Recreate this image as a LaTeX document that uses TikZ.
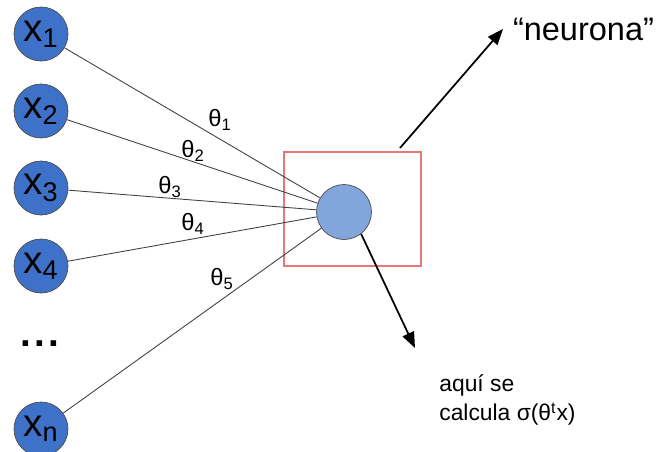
\documentclass[tikz,border=0pt]{standalone}
\usepackage{fontspec}
\setmainfont{Liberation Sans}
\usepackage{xcolor}
\usetikzlibrary{positioning,arrows.meta}
\definecolor{inblue}{RGB}{62,114,200}
\definecolor{neublue}{RGB}{130,166,220}
\definecolor{boxred}{RGB}{232,120,120}
\tikzset{
    input/.style={circle, draw=black!70, fill=inblue, minimum size=1.08cm, inner sep=0pt, font=\fontsize{22}{22}\selectfont},
    neuron/.style={circle, draw=black!70, fill=neublue, minimum size=1.1cm, inner sep=0pt},
    weight/.style={font=\fontsize{13.5}{13.5}\selectfont, inner sep=1pt},
    link/.style={draw=black!75, line width=0.5pt},
    pointer/.style={-{Triangle[length=9pt,width=7pt]}, line width=1pt}
}

\begin{document}
\begin{tikzpicture}[x=0.02cm, y=-0.02cm]
    \useasboundingbox (0,0) rectangle (660,451);

    % entradas
    \node[input] (x1) at (41,34) {x\textsubscript{1}};
    \node[input] (x2) at (41,111) {x\textsubscript{2}};
    \node[input] (x3) at (41,188) {x\textsubscript{3}};
    \node[input] (x4) at (41,266) {x\textsubscript{4}};
    \node[font=\fontsize{22}{22}\selectfont\bfseries] (dots) at (40,344) {.\hspace{2pt}.\hspace{2pt}.};
    \node[input] (xn) at (41,429) {x\textsubscript{n}};

    % neurona
    \node[draw=boxred, line width=0.8pt, minimum width=2.74cm, minimum height=2.28cm] (box) at (352.5,209) {};
    \node[neuron] (n) at (344,212) {};

    % pesos
    \draw[link] (x1) -- (n);
    \draw[link] (x2) -- (n);
    \draw[link] (x3) -- (n);
    \draw[link] (x4) -- (n);
    \draw[link] (xn) -- (n);
    \node[weight] (t1) at (220,120) {θ\textsubscript{1}};
    \node[weight] (t2) at (193,151) {θ\textsubscript{2}};
    \node[weight] (t3) at (170,187) {θ\textsubscript{3}};
    \node[weight] (t4) at (193,224) {θ\textsubscript{4}};
    \node[weight] (t5) at (222,279) {θ\textsubscript{5}};

    % etiquetas
    \node[anchor=west, inner ysep=0pt, inner xsep=5.5pt, font=\fontsize{18.5}{18.5}\selectfont] (lab) at (503,29) {“neurona”};
    \coordinate (start) at (400,148);
    \draw[pointer] (start) -- (lab.west);

    \node[anchor=west, align=left, inner sep=0pt, font=\fontsize{13}{17}\selectfont] (calc) at (439,400) {aquí se\\calcula σ(θ\textsuperscript{t}x)};
    \coordinate (tip) at (415,348);
    \draw[pointer] (n.-52) -- (tip);
\end{tikzpicture}
\end{document}
